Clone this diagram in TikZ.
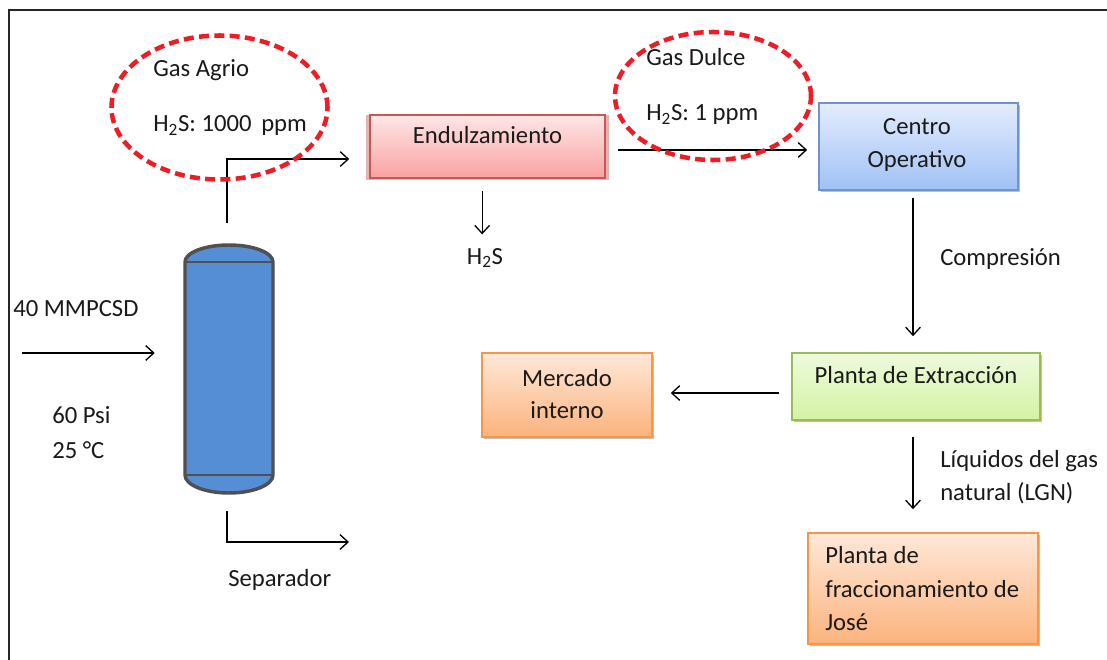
\documentclass[tikz,border=0pt]{standalone}
\usepackage{fontspec}
\setmainfont{Carlito}
\usetikzlibrary{arrows.meta,shadows,shapes.geometric}

\definecolor{ink}{HTML}{1A1A1A}
\definecolor{frameline}{HTML}{262626}
\definecolor{redDash}{HTML}{EE1C24}
\definecolor{endTop}{HTML}{FFE6E6}
\definecolor{endBot}{HTML}{F8A2A2}
\definecolor{endEdge}{HTML}{C45A58}
\definecolor{cenTop}{HTML}{E3EDFD}
\definecolor{cenBot}{HTML}{A0C1F5}
\definecolor{cenEdge}{HTML}{6F93CC}
\definecolor{extTop}{HTML}{EEFADC}
\definecolor{extBot}{HTML}{D3F3A4}
\definecolor{extEdge}{HTML}{9BBB59}
\definecolor{oraTop}{HTML}{FFE8D8}
\definecolor{oraBot}{HTML}{FBB37D}
\definecolor{oraEdge}{HTML}{F79646}
\definecolor{vesselFill}{HTML}{558ED5}
\definecolor{vesselEdge}{HTML}{505050}

\begin{document}
\begin{tikzpicture}[x=0.75pt, y=-0.75pt,
  font=\fontsize{18.5}{24.75}\selectfont,
  txt/.style={inner sep=0pt, text=ink},
  arr/.style={draw=black, line width=1pt, -{Straight Barb[length=6pt,width=11pt]}},
  box/.style={draw, line width=1.2pt, inner sep=0pt},
  softshadow/.style={drop shadow={shadow xshift=1.2pt, shadow yshift=-1.8pt, fill=black, opacity=0.25}},
  gasring/.style={ellipse, draw=redDash, line width=3.4pt, dash pattern=on 7.5pt off 4pt, inner sep=0pt}
]
\useasboundingbox (0,0) rectangle (1107,660);
\fill[white] (0,0) rectangle (1107,660);

% outer frame (only the top and left edges fall inside the page)
\draw[frameline, line width=2pt] (9,662) -- (9,10) -- (1109,10);

% process boxes
\node[box, draw=endEdge, top color=endTop, bottom color=endBot,
      drop shadow={shadow xshift=0pt, shadow yshift=-1pt, shadow scale=1.03, fill=red!70!black, opacity=0.3},
      minimum width=235*0.75pt, minimum height=63*0.75pt] (endul) at (487.5,146.5) {};
\node[box, draw=cenEdge, top color=cenTop, bottom color=cenBot, softshadow,
      minimum width=199*0.75pt, minimum height=87*0.75pt] (centro) at (918.5,146.5) {};
\node[box, draw=extEdge, top color=extTop, bottom color=extBot, softshadow,
      minimum width=248*0.75pt, minimum height=67*0.75pt] (planta) at (916,386.5) {};
\node[box, draw=oraEdge, top color=oraTop, bottom color=oraBot, softshadow,
      minimum width=170*0.75pt, minimum height=84*0.75pt] (mercado) at (567,395) {};
\node[box, draw=oraEdge, top color=oraTop, bottom color=oraBot, softshadow,
      minimum width=230*0.75pt, minimum height=111*0.75pt] (frac) at (923,588.5) {};

% box captions
\node[txt, anchor=base] (endulT) at (487.5,143) {Endulzamiento};
\node[txt, anchor=base] (centroT1) at (917,134) {Centro};
\node[txt, anchor=base] (centroT2) at (917,167) {Operativo};
\node[txt, anchor=base] (plantaT) at (916,383) {Planta de Extracción};
\node[txt, anchor=base] (mercadoT1) at (567,386) {Mercado};
\node[txt, anchor=base] (mercadoT2) at (567,418) {interno};
\node[txt, anchor=base west] (fracT1) at (825,563) {Planta de};
\node[txt, anchor=base west] (fracT2) at (825,597) {fraccionamiento de};
\node[txt, anchor=base west] (fracT3) at (825,630) {José};

% separator vessel
\node[inner sep=0pt, minimum width=88*0.75pt, minimum height=248*0.75pt] (sep) at (229,369) {};
\draw[fill=vesselFill, draw=vesselEdge, line width=2.6pt, line join=round]
  (185,262) arc[start angle=180, end angle=360, x radius=44, y radius=17]
  -- (273,475) arc[start angle=0, end angle=180, x radius=44, y radius=18] -- cycle;
\draw[vesselEdge, line width=2pt] (185,262) -- (273,262);
\draw[vesselEdge, line width=2pt] (185,475) -- (273,475);

% stream labels
\node[txt, anchor=base west] (feed) at (13,316) {40 MMPCSD};
\node[txt, anchor=base west] (press) at (52,423) {60 Psi};
\node[txt, anchor=base west] (temp) at (52,458) {25 °C};
\node[txt, anchor=base west] (sepT) at (228,586) {Separador};
\node[txt, anchor=base] (h2s) at (485,264) {H\textsubscript{2}S};
\node[txt, anchor=base west] (comp) at (940,265) {Compresión};
\node[txt, anchor=base west] (lgn1) at (940,467) {Líquidos del gas};
\node[txt, anchor=base west] (lgn2) at (940,500) {natural (LGN)};

% flow connectors
\coordinate (inlet) at (22,353);
\coordinate (sepOut) at (349,542);
\draw[arr, shorten >=22.5pt] (inlet) -- (inlet -| sep.west);
\draw[arr, shorten <=16.5pt, shorten >=15pt] ([xshift=-1.5pt]sep.north) |- ([yshift=-9.4pt]endul.west);
\draw[arr, shorten <=13.5pt] ([xshift=-1.5pt]sep.south) |- (sepOut);
\draw[arr, shorten <=9pt, shorten >=10pt] ([xshift=-4pt]endul.south) -- ([xshift=-4pt]endul.south |- h2s.north);
\draw[arr, shorten <=9pt, shorten >=8.25pt] ([yshift=-2.6pt]endul.east) -- ([yshift=-2.6pt]endul.east -| centro.west);
\draw[arr, shorten <=5.25pt, shorten >=12pt] ([xshift=-4.1pt]centro.south) -- ([xshift=-4.1pt]centro.south |- planta.north);
\draw[arr, shorten <=9pt, shorten >=13.5pt] ([yshift=-4.9pt]planta.west) -- ([yshift=-4.9pt]planta.west -| mercado.east);
\draw[arr, shorten <=12pt, shorten >=17.25pt] ([xshift=-2.25pt]planta.south) -- ([xshift=-2.25pt]planta.south |- frac.north);

% gas quality rings
\node[gasring, minimum width=216*0.75pt, minimum height=144*0.75pt] (agrio) at (219.5,107.5) {};
\node[gasring, minimum width=196*0.75pt, minimum height=128*0.75pt] (dulce) at (713,96) {};
\node[txt, anchor=base west] (agrioT1) at (153,77) {Gas Agrio};
\node[txt, anchor=base west] (agrioT2) at (153,132) {H\textsubscript{2}S: 1000\, ppm};
\node[txt, anchor=base west] (dulceT1) at (646,65) {Gas Dulce};
\node[txt, anchor=base west] (dulceT2) at (646,121) {H\textsubscript{2}S: 1 ppm};
\end{tikzpicture}
\end{document}
